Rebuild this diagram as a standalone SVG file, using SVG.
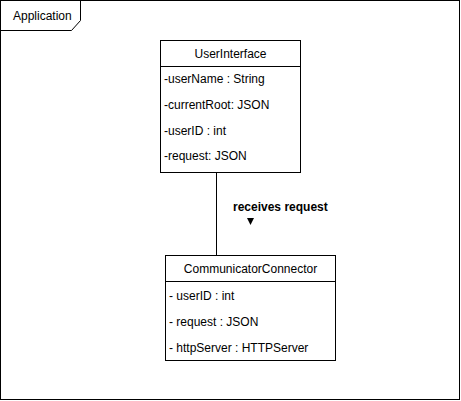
<svg xmlns="http://www.w3.org/2000/svg" width="461" height="401" viewBox="0 0 461 401">
<style>
text{font-family:"Liberation Sans",Arial,Helvetica,sans-serif;font-size:12px;fill:#000}
.box{fill:#fff;stroke:#000;stroke-width:1}
.ln{stroke:#000;stroke-width:1;fill:none}
.c{text-anchor:middle}
.b{font-weight:bold}
</style>
<rect width="461" height="401" fill="#fff"/>
<g id="frame">
<rect x="0.5" y="0.5" width="459" height="399" class="box"/>
<path d="M0.5,0.5 L80.5,0.5 L80.5,20.5 L71.5,30.5 L0.5,30.5" class="ln"/>
<text x="13" y="20">Application</text>
</g>
<g id="connectors">
<line x1="216.5" y1="172.5" x2="216.5" y2="255.5" class="ln"/>
<text x="233" y="211" class="b">receives request</text>
<polygon points="247,218 254,218 250.5,225" fill="#000"/>
</g>
<g id="UserInterface">
<rect x="160.5" y="40.5" width="140" height="132" class="box"/>
<line x1="160.5" y1="66.5" x2="300.5" y2="66.5" class="ln"/>
<text x="230.5" y="58" class="c">UserInterface</text>
<text x="164" y="83">-userName : String</text>
<text x="164" y="109">-currentRoot: JSON</text>
<text x="164" y="135">-userID : int</text>
<text x="164" y="160">-request: JSON</text>
</g>
<g id="CommunicatorConnector">
<rect x="165.5" y="255.5" width="170" height="105" class="box"/>
<line x1="165.5" y1="281.5" x2="335.5" y2="281.5" class="ln"/>
<text x="250.5" y="273" class="c">CommunicatorConnector</text>
<text x="169" y="300">- userID : int</text>
<text x="169" y="326">- request : JSON</text>
<text x="169" y="352">- httpServer : HTTPServer</text>
</g>
</svg>
